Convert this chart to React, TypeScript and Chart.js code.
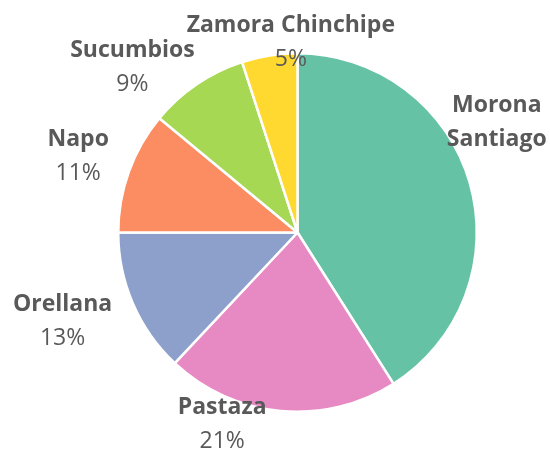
import React, { useEffect, useRef } from "react";
import { Chart, registerables } from "chart.js";

Chart.register(...registerables);

const categories = ["Morona Santiago", "Pastaza", "Orellana", "Napo", "Sucumbios", "Zamora Chinchipe"];
const nameLines = [["Morona", "Santiago"], ["Pastaza"], ["Orellana"], ["Napo"], ["Sucumbios"], ["Zamora Chinchipe"]];
const values = [41, 21, 13, 11, 9, 5];
const percentLabels = ["", "21%", "13%", "11%", "9%", "5%"];
const colors = ["#66c2a5", "#e78ac3", "#8da0cb", "#fc8d62", "#a6d854", "#ffd92f"];
// label block centre: angle (deg clockwise from top) and distance as a fraction of the pie radius
const labelAngles = [60.6, 201.6, 249.6, 289.5, 315.3, 358];
const labelDistances = [1.276, 1.142, 1.398, 1.298, 1.309, 1.07];

const FONT = "'Open Sans', 'Liberation Sans', sans-serif";

const labelPlugin = {
  id: "pieLabels",
  afterDatasetsDraw(chart: any) {
    const ctx = chart.ctx;
    const meta = chart.getDatasetMeta(0);
    const lh = 34;
    meta.data.forEach((arc: any, i: number) => {
      const { x, y, outerRadius } = arc.getProps(["x", "y", "outerRadius"], true);
      const a = (labelAngles[i] * Math.PI) / 180;
      const d = outerRadius * labelDistances[i];
      const cx = x + Math.sin(a) * d;
      const cy = y - Math.cos(a) * d + 2;
      const lines: { t: string; bold: boolean }[] = nameLines[i].map((t) => ({ t, bold: true }));
      if (percentLabels[i]) lines.push({ t: percentLabels[i], bold: false });
      const total = lines.length * lh;
      ctx.save();
      ctx.textAlign = "center";
      ctx.textBaseline = "middle";
      ctx.fillStyle = "#595959";
      lines.forEach((ln, k) => {
        ctx.font = `${ln.bold ? "bold " : ""}23px ${FONT}`;
        ctx.fillText(ln.t, cx, cy - total / 2 + lh * (k + 0.5));
      });
      ctx.restore();
    });
  },
};

export default function App() {
  const ref = useRef<HTMLCanvasElement>(null);
  useEffect(() => {
    document.body.style.margin = "0";
    const chart = new Chart(ref.current!, {
      type: "pie",
      data: {
        labels: categories,
        datasets: [
          {
            data: values,
            backgroundColor: colors,
            borderColor: "#ffffff",
            borderWidth: 2.5,
          },
        ],
      },
      options: {
        responsive: false,
        animation: false,
        layout: { padding: { top: 52, bottom: 40, left: 117, right: 72 } },
        plugins: { legend: { display: false }, tooltip: { enabled: false } },
      },
      plugins: [labelPlugin],
    });
    return () => chart.destroy();
  }, []);
  return (
    <div style={{ width: 550, height: 453, background: "#fff" }}>
      <canvas ref={ref} width={550} height={453} style={{ width: 550, height: 453, display: "block" }} />
    </div>
  );
}
